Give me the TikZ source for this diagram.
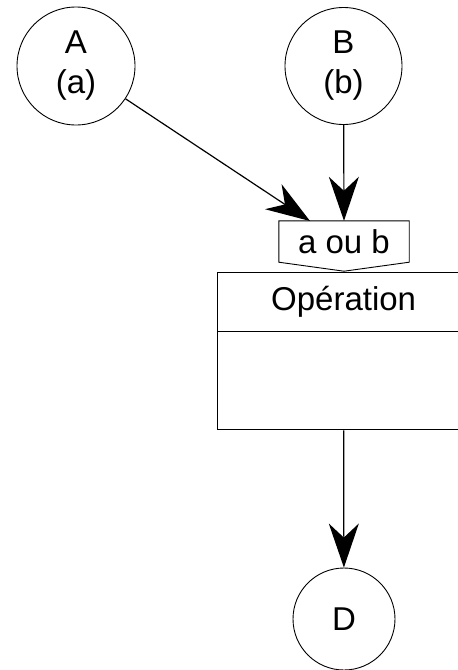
\documentclass[tikz,border=0pt]{standalone}
\usepackage{fontspec}
\setmainfont{Liberation Sans}
\usetikzlibrary{arrows.meta}
\begin{document}
\begin{tikzpicture}[x=1pt,y=-1pt,
  txt/.style={font=\fontsize{33}{40}\selectfont},
  state/.style={circle,draw,line width=0.9pt,inner sep=0pt,align=center,txt},
  conn/.style={line width=1.2pt,-{Stealth[length=44pt,width=30pt,inset=14pt]}},
  boxline/.style={line width=1.3pt},
]
\clip (0,0) rectangle (458,670);
\node[state,minimum size=118pt] (A) at (76,66) {A\\(a)};
\node[state,minimum size=117pt] (B) at (343.5,66) {B\\(b)};
\node[state,minimum size=102pt] (D) at (344,619) {D};
\node[txt,minimum width=130pt,minimum height=41pt,inner sep=0pt] (tag) at (344,241.5) {a ou b};
\draw[line width=0.9pt] (tag.north west) -- (tag.north east) -- (tag.south east)
  -- ([yshift=-9pt]tag.south) -- (tag.south west) -- cycle;
\node[draw,boxline,minimum width=252pt,minimum height=157pt,anchor=north west,inner sep=0pt] (op) at (217,272) {};
\node[txt,anchor=north,minimum height=59pt,inner sep=0pt] (title) at (op.north) {Opération};
\draw[boxline] (op.west |- title.south) -- (op.east |- title.south);
\coordinate (aend) at (310,221);
\draw[conn] (A) -- (aend);
\draw[conn] (B) -- (tag.north);
\draw[conn] (op.south) -- (D);
\end{tikzpicture}
\end{document}
